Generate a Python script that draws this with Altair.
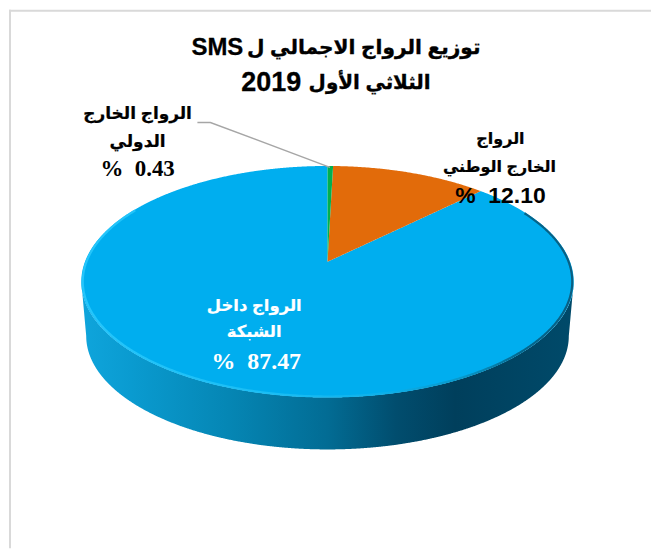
import numpy as np
import pandas as pd
import altair as alt

# ---- data ----
slices = ["الرواج الخارج الدولي", "الرواج الخارج الوطني", "الرواج داخل الشبكة"]
shares = [0.43, 12.10, 87.47]
title_arabic = ["توزيع الرواج الاجمالي ل", "الثلاثي الأول"]
title_latin = ["SMS", "2019"]
intl_lines = ["الرواج الخارج", "الدولي"]
natl_lines = ["الرواج", "الخارج الوطني"]
inner_lines = ["الرواج داخل", "الشبكة"]
pct_labels = ["%\u00a0\u00a00.43", "%\u00a0\u00a012.10", "%\u00a0\u00a087.47"]

# ---- drawing set-up: a tilted disc seen in perspective ----
W, H = 644, 540
CX, CY = 327.5, 260.7   # where the slices meet
A, B, K = 243.3, 112.6, 0.172
FAR = dict(scale=0.98, cy=315.7)


def rim(theta, scale=1.0, cy=CY):
    """Perspective image of the disc's rim; theta in degrees, clockwise from the top."""
    t = np.radians(theta)
    d = 1 + K * np.cos(t)
    return CX + scale * A * np.sin(t) / d, cy - scale * B * np.cos(t) / d


EXT = np.degrees(np.arccos(-K))  # angle of the widest point of the disc
edges = np.concatenate([[0], np.cumsum(shares)]) * 3.6


def band(ux, uy, lx, ly, n=500):
    xs = np.unique(np.concatenate([ux, lx, np.linspace(min(ux.min(), lx.min()), max(ux.max(), lx.max()), n)]))
    return pd.DataFrame({"x": xs, "y": np.interp(xs, ux, uy), "y2": np.interp(xs, lx, ly)})


def small_slice(t0, t1):
    th = np.linspace(t0, t1, 60)
    rx, ry = rim(th)
    ux = np.concatenate([[CX - 1e-3], rx])
    uy = np.concatenate([[CY], ry])
    lx = np.array([CX - 1e-3, rx[-1]])
    ly = np.array([CY, ry[-1]])
    return band(ux, uy, lx, ly, 80)


def large_slice(t0):
    # from the end of the orange slice clockwise round to the top again
    up_r = np.linspace(t0, EXT, 200)
    up_l = np.linspace(-EXT, 0, 200)
    lx_, ly_ = rim(np.linspace(EXT, 360 - EXT, 400))
    lo_order = np.argsort(lx_)
    rx_r, ry_r = rim(up_r)
    rx_l, ry_l = rim(up_l)
    ux = np.concatenate([rx_l, [CX + 1e-3], rx_r])
    uy = np.concatenate([ry_l, [CY], ry_r])
    return band(ux, uy, lx_[lo_order], ly_[lo_order], 500)


green = small_slice(edges[0], edges[1])
orange = small_slice(edges[1], edges[2])
blue = large_slice(edges[2])

# side wall: between the lower rim of the top and the lower rim of the base
tx, ty = rim(np.linspace(EXT, 360 - EXT, 500))
bx, by = rim(np.linspace(EXT, 360 - EXT, 500), **FAR)
o1, o2 = np.argsort(tx), np.argsort(bx)
low_x = np.concatenate([[tx.min()], bx[o2], [tx.max()]])
low_y = np.concatenate([[ty[o1][0]], by[o2], [ty[o1][-1]]])
wall = band(tx[o1], ty[o1], low_x, low_y, 500)

# bright bevel round the front edge of the top
bev_t = np.linspace(62, 300, 500)
bev_x, bev_y = rim(bev_t, scale=0.994)
bevel = pd.DataFrame({"x": bev_x, "y": bev_y, "o": np.arange(bev_t.size)})

X = alt.X("x:Q", scale=alt.Scale(domain=[8, 8 + W], nice=False, zero=False), axis=None)
Y = alt.Y("y:Q", scale=alt.Scale(domain=[8 + H, 8], nice=False, zero=False), axis=None)


def area(df, color):
    return alt.Chart(df).mark_area(color=color, clip=False, interpolate="linear").encode(x=X, y=Y, y2="y2:Q")


def stops(*pairs):
    return [alt.GradientStop(offset=o, color=c) for o, c in pairs]


wall_fill = alt.LinearGradient(
    gradient="linear", x1=0, x2=1, y1=0, y2=0,
    stops=stops((0, "#0fa5dc"), (0.1, "#0a9bd0"), (0.3, "#0586b4"), (0.5, "#026c94"),
                (0.64, "#014d6e"), (0.76, "#003f5c"), (1, "#004a6a")),
)
bevel_stroke = alt.LinearGradient(
    gradient="linear", x1=0, x2=1, y1=0, y2=0,
    stops=stops((0, "#25c6fb"), (0.4, "#1abdf4"), (0.62, "#0db0ea"), (0.78, "#0796c8"),
                (0.9, "#04668c"), (1, "#0a5f82")),
)

# ---- text ----
SANS = "Liberation Sans, DejaVu Sans"
SERIF = "Liberation Serif, DejaVu Serif"


def text(lines, xs, ys, size, color="#000000", font=SANS, align="center", heavy=0.0):
    df = pd.DataFrame({"x": xs, "y": ys, "t": lines})
    kw = dict(stroke=color, strokeWidth=heavy) if heavy else {}
    return alt.Chart(df).mark_text(
        font=font, fontSize=size, fontWeight="bold", color=color, align=align, baseline="middle", **kw
    ).encode(x=X, y=Y, text="t:N")


leader = pd.DataFrame({"x": [197, 210, 330], "y": [121, 121, 166], "o": [0, 1, 2]})

frame_left = alt.Chart(pd.DataFrame({"a": [0]})).mark_rule(color="#d9d9d9", strokeWidth=2).encode(
    x=alt.value(1), y=alt.value(0), y2=alt.value(H))
frame_top = alt.Chart(pd.DataFrame({"a": [0]})).mark_rule(color="#d9d9d9", strokeWidth=2).encode(
    x=alt.value(0), x2=alt.value(W), y=alt.value(1))

chart = alt.layer(
    frame_left,
    frame_top,
    alt.Chart(wall).mark_area(color=wall_fill).encode(x=X, y=Y, y2="y2:Q"),
    area(blue, "#00aeef"),
    area(orange, "#e26b0a"),
    area(green, "#00b050"),
    alt.Chart(bevel).mark_line(color=bevel_stroke, strokeWidth=2.2).encode(x=X, y=Y, order="o:Q"),
    alt.Chart(leader).mark_line(color="#a6a6a6", strokeWidth=1.4).encode(x=X, y=Y, order="o:Q"),
    text(title_arabic[:1], [481], [46], 20.2, align="right", heavy=0.35),
    text(title_latin[:1], [191], [46], 24, align="left", heavy=0.3),
    text(title_arabic[1:], [431], [81], 20, align="right", heavy=0.35),
    text(title_latin[1:], [241], [81], 27, align="left", heavy=0.3),
    text(intl_lines, [137, 137], [113, 141], 17, heavy=0.25),
    text(pct_labels[:1], [137], [168], 23, font=SERIF),
    text(natl_lines, [501, 500], [138, 166], 16, heavy=0.25),
    text(pct_labels[1:2], [501], [195], 23, font=SANS),
    text(inner_lines, [254, 254], [305, 331], 16.5, color="#ffffff", heavy=0.2),
    text(pct_labels[2:], [256], [361], 24, color="#ffffff", font=SERIF),
).properties(width=W, height=H, padding=0, background="#ffffff").configure_view(stroke=None)

chart.save("out.html", embed_options={"renderer": "svg", "actions": False})
